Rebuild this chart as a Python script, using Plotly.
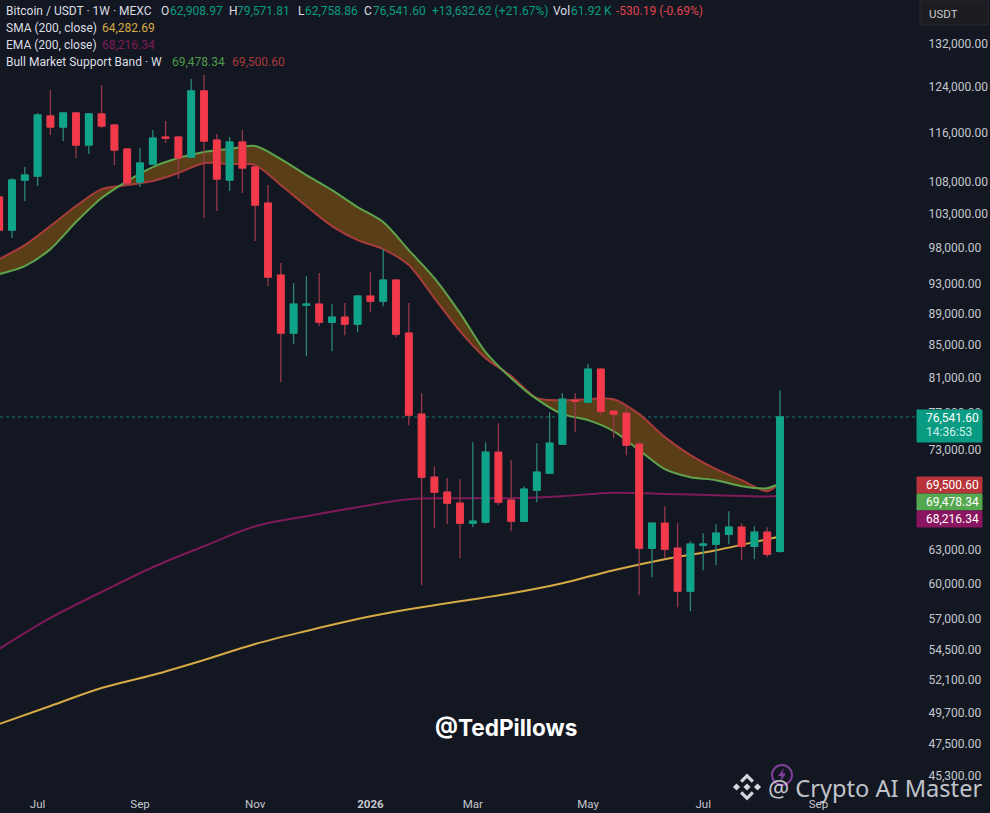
import pandas as pd
import plotly.graph_objects as go

FIRST_WEEK = "2025-06-16"

opens = [105550,100578,108200,108840,118820,116920,119340,113880,119170,117260,113220,107890,110770,115220,115220,111900,
         123240,114719,108204,114380,110280,104620,94170,86520,90130,90260,87920,88560,87660,91330,90660,93489,
         86520,76860,70100,68580,67480,65540,65640,72700,67779,65730,68777,70510,73560,78447,78220,82080,
         77200,76970,73560,63190,65540,63190,59340,63470,63560,64490,65160,63370,64680,62908.97]
highs = [106324,108520,110280,119340,123417,119340,119510,119340,124320,117430,113390,113390,116408,117950,115390,125420,
         126160,115730,115220,116408,110600,107420,95840,93080,94030,94450,90260,90400,91460,94590,97820,93630,
         90400,79250,71230,70000,69890,73780,73780,75850,71860,69180,73670,77080,79250,79250,82690,82200,
         77200,77880,73880,65640,67190,65540,63840,64590,65440,66700,65540,65250,65160,79571.81]
lows = [100140,99410,104933,107260,115560,114550,111740,112400,116750,110600,107420,107100,110600,114220,108360,111740,
        102360,103410,106480,106170,98970,92670,80540,85140,83660,87410,84270,86260,86650,89220,90000,86000,
        75630,59860,65060,65440,62270,65160,65500,67290,64780,65730,67580,70510,73560,74860,78220,76750,
        74210,72390,58990,60560,62270,57960,57630,61186,61640,63560,62087,62180,62360,62758.86]
closes = [100578,108204,109000,118990,116920,119340,113880,119170,117090,113054,107730,110930,115050,115050,111740,123240,
          114550,108360,114380,110120,104320,93900,86520,90260,90260,87920,88560,87660,91330,90660,93489,86390,
          76750,70100,68580,67480,65540,65730,72700,67580,65730,68880,70610,73670,78560,78330,82080,77200,
          76860,73450,63190,65540,63100,59340,63560,63560,64590,65160,63370,64680,62640,76541.60]

sma_idx = [0,4,8,12,16,20,24,28,32,36,40,44,48,52,56,60,61]
sma_values = [48873,50177,51514,52502,53666,54936,55990,56979,57795,58475,59160,60035,61186,62178,63002,64020,64282.69]
ema_values = [54536,57062,59272,61456,63370,65250,66213,67090,67877,67975,67975,68175,68527,68400,68280,68150,68216.34]

band_idx = list(range(0, 62, 2)) + [61]
band_green = [94315,95420,97820,101760,105396,108047,110280,111740,112730,113220,113720,111580,109000,106634,104020,101760,
              97680,93760,89090,84150,81010,78560,76860,76187,74970,72919,70920,70100,69790,69180,68980,69478.34]
band_red = [96400,98400,101170,104170,106790,107420,108047,109320,110930,110770,110600,107420,104170,101170,99118,97820,
            95560,91060,86770,83410,81250,78680,78447,78560,78560,76860,74320,72390,70920,69790,68680,69500.60]

price_ticks = [132000,124000,116000,108000,103000,98000,93000,89000,85000,81000,77000,73000,63000,60000,57000,54500,52100,49700,47500,45300]
month_ticks = ["2025-07-07","2025-09-01","2025-11-03","2026-01-05","2026-03-02","2026-05-04","2026-07-06","2026-09-07"]
month_labels = ["Jul","Sep","Nov","<b>2026</b>","Mar","May","Jul","Sep"]

BG = "#131722"
UP, DOWN = "#0fa58a", "#f23a4a"
UP_WICK, DOWN_WICK = "#2b8478", "#96384a"
TXT = "#c4c7ce"
FONT = "Roboto"

W, H = 990, 813
MR, MB = 73, 23
PW, PH = W - MR, H - MB


def X(px):
    return px / PW


def Y(py):
    return 1 - py / PH


weeks = pd.date_range(FIRST_WEEK, periods=len(opens), freq="7D")
day_per_px = 7 / 12.8
x_start = weeks[0] + pd.Timedelta(days=0.8 * day_per_px)
x_end = x_start + pd.Timedelta(days=PW * day_per_px)
xr = [x_start, x_end]
yr = [4.64720, 5.14850]

fig = go.Figure()
fig.add_trace(go.Scatter(x=weeks[sma_idx], y=sma_values, mode="lines", line=dict(color="#d6ab45", width=2, shape="spline"), hoverinfo="skip"))
fig.add_trace(go.Scatter(x=weeks[sma_idx], y=ema_values, mode="lines", line=dict(color="#7f1a58", width=2, shape="spline"), hoverinfo="skip"))
fig.add_trace(go.Scatter(x=weeks[band_idx], y=band_red, mode="lines", line=dict(color="#a83c3a", width=2, shape="spline", smoothing=0.8), hoverinfo="skip"))
fig.add_trace(go.Scatter(x=weeks[band_idx], y=band_green, mode="lines", line=dict(color="#5fa44c", width=2, shape="spline", smoothing=0.8), fill="tonexty", fillcolor="#5a3e18", hoverinfo="skip"))

fig.add_trace(go.Candlestick(x=weeks, open=opens, high=highs, low=lows, close=closes, xaxis="x2", yaxis="y2",
                             increasing=dict(line=dict(color=UP_WICK, width=1.3), fillcolor=UP),
                             decreasing=dict(line=dict(color=DOWN_WICK, width=1.3), fillcolor=DOWN),
                             whiskerwidth=0, hoverinfo="skip"))
fig.add_trace(go.Candlestick(x=weeks, open=opens, close=closes,
                             high=[max(a, b) for a, b in zip(opens, closes)],
                             low=[min(a, b) for a, b in zip(opens, closes)], xaxis="x2", yaxis="y2",
                             increasing=dict(line=dict(color=UP, width=1), fillcolor=UP),
                             decreasing=dict(line=dict(color=DOWN, width=1), fillcolor=DOWN),
                             whiskerwidth=0, hoverinfo="skip"))

ann = []


def text(px, py, s, color="#dcdee3", size=12, anchor="left", **kw):
    ann.append(dict(xref="paper", yref="paper", x=X(px), y=Y(py), text=s, showarrow=False, xanchor=anchor, yanchor="middle",
                    font=dict(color=color, size=size, family=kw.get("family", FONT)), borderpad=0, align="left"))


t1 = "#0a9c83"
t2 = "#e0434f"
text(5, 11, "Bitcoin / USDT · 1W · MEXC")
for px, s, c in [(160, "O", "#dcdee3"), (169, "62,908.97", t1), (228, "H", "#dcdee3"), (236, "79,571.81", t1),
                 (297, "L", "#dcdee3"), (304, "62,758.86", t1), (363, "C", "#dcdee3"), (372, "76,541.60", t1),
                 (431, "+13,632.62 (+21.67%)", t1), (552, "Vol", "#dcdee3"), (570, "61.92 K", t1),
                 (615, "-530.19 (-0.69%)", t2)]:
    text(px, 11, s, c)
text(5, 28, "SMA (200, close)")
text(101, 28, "64,282.69", "#d6ab45")
text(5, 45, "EMA (200, close)")
text(101, 45, "68,216.34", "#7f1a58")
text(5, 62, "Bull Market Support Band · W")
text(171, 62, "69,478.34", "#4f9a4a")
text(231, 62, "69,500.60", "#a83c3a")

shapes = [dict(type="line", xref="paper", yref="y", x0=0, x1=1, y0=76541.60, y1=76541.60,
               line=dict(color="#0d7f6e", width=1, dash="dot"), layer="below")]


def rect(x0, y0, x1, y1, fill, line=None):
    shapes.append(dict(type="rect", xref="paper", yref="paper", x0=X(x0), x1=X(x1), y0=Y(y0), y1=Y(y1), fillcolor=fill,
                       line=dict(color=line or fill, width=1), layer="above"))


rect(917, 410, 982, 442, "#0a9c83")
rect(917, 477, 982, 493, "#b8343a")
rect(917, 494, 982, 510, "#55a84f")
rect(917, 511, 982, 527, "#8a1560")
rect(920, 1, 988, 25, "#1c1d20", "#2a2b2e")
text(925, 418, "76,541.60", "#ffffff", 12)
text(925, 432, "14:36:53", "#cfeee8", 12)
text(925, 485, "69,500.60", "#ffffff", 12)
text(925, 502, "69,478.34", "#ffffff", 12)
text(925, 519, "68,216.34", "#ffffff", 12)
text(928, 14, "USDT", "#c8cad0", 11.5)
text(434, 727, "<b>@TedPillows</b>", "#ffffff", 22.6, family="Inter")
text(767, 788, "@ Crypto AI Master", "rgba(225,228,232,0.85)", 23.6, family="Noto Sans")


def poly(points, fill):
    path = "M" + " L".join(f"{X(a):.5f},{Y(b):.5f}" for a, b in points) + " Z"
    shapes.append(dict(type="path", xref="paper", yref="paper", path=path, fillcolor=fill, line=dict(width=0), layer="above"))


cx, cy = 747, 787
logo = "#d3d6dc"
for dx, dy in [(0, 0), (-10.5, 0), (10.5, 0)]:
    poly([(cx + dx, cy + dy - 3.6), (cx + dx + 3.6, cy + dy), (cx + dx, cy + dy + 3.6), (cx + dx - 3.6, cy + dy)], logo)
for s in (-1, 1):
    poly([(cx, cy + s * 13.5), (cx + 7, cy + s * 6.5), (cx + 4.7, cy + s * 4.2), (cx, cy + s * 9), (cx - 4.7, cy + s * 4.2), (cx - 7, cy + s * 6.5)], logo)
shapes.append(dict(type="circle", xref="paper", yref="paper", x0=X(772), x1=X(792), y0=Y(785), y1=Y(765),
                   line=dict(color="#7f3f9a", width=2), layer="above"))
poly([(784, 768), (778, 776), (781.5, 776), (780, 782), (786, 773.5), (782.5, 773.5)], "#7f3f9a")

fig.update_layout(
    width=W, height=H, margin=dict(l=0, r=MR, t=0, b=MB), paper_bgcolor=BG, plot_bgcolor=BG, showlegend=False, boxgap=0.26,
    font=dict(family=FONT, color=TXT, size=12), annotations=ann, shapes=shapes,
    xaxis=dict(type="date", range=xr, tickmode="array", tickvals=month_ticks, ticktext=month_labels, showgrid=False, zeroline=False,
               showline=False, ticks="outside", ticklen=3, tickcolor=BG, tickfont=dict(size=11.5, color=TXT), rangeslider=dict(visible=False)),
    xaxis2=dict(type="date", range=xr, overlaying="x", visible=False, rangeslider=dict(visible=False)),
    yaxis=dict(type="log", range=yr, side="right", tickmode="array", tickvals=price_ticks, ticktext=[f"{v:,.2f}" for v in price_ticks],
               showgrid=False, zeroline=False, showline=False, ticks="outside", ticklen=8, tickcolor=BG, tickfont=dict(size=12, color=TXT)),
    yaxis2=dict(type="log", range=yr, side="right", overlaying="y", visible=False),
)

fig.write_html("out.html", config=dict(displayModeBar=False),
               post_script="document.body.style.margin='0';document.body.style.background='#131722';document.body.style.overflow='hidden';")
